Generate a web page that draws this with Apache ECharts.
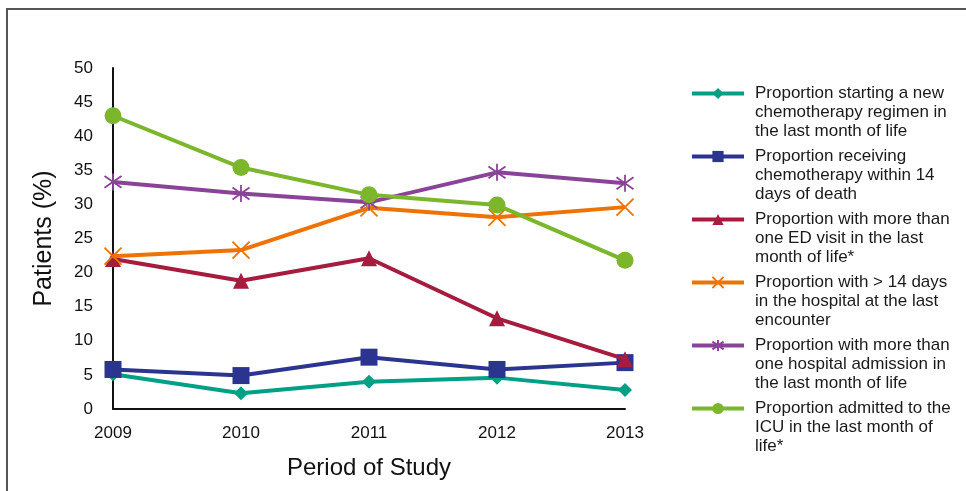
<!DOCTYPE html>
<html>
<head>
<meta charset="utf-8">
<script src="https://cdn.jsdelivr.net/npm/echarts@6/dist/echarts.min.js"></script>
<style>
  html, body { margin: 0; padding: 0; background: #fff; }
  #chart { width: 966px; height: 491px; }
</style>
</head>
<body>
<div id="chart"></div>
<script>
// Study years
const years = ['2009', '2010', '2011', '2012', '2013'];
const yTicks = [0, 5, 10, 15, 20, 25, 30, 35, 40, 45, 50];

// Percent of patients per year for each end-of-life indicator
const newRegimen = [5.1, 2.3, 4.0, 4.6, 2.8];
const chemo14Days = [5.8, 4.9, 7.6, 5.8, 6.8];
const multiEdVisit = [22.0, 18.8, 22.1, 13.3, 7.3];
const longStay = [22.4, 23.3, 29.5, 28.1, 29.6];
const multiAdmission = [33.3, 31.6, 30.3, 34.7, 33.1];
const icuAdmission = [43.0, 35.4, 31.4, 29.9, 21.8];

const seriesNames = [
  'Proportion starting a new\nchemotherapy regimen in\nthe last month of life',
  'Proportion receiving\nchemotherapy within 14\ndays of death',
  'Proportion with more than\none ED visit in the last\nmonth of life*',
  'Proportion with > 14 days\nin the hospital at the last\nencounter',
  'Proportion with more than\none hospital admission in\nthe last month of life',
  'Proportion admitted to the\nICU in the last month of\nlife*'
];

const colors = ['#00a086', '#2b3590', '#a51c3f', '#ef7204', '#8a4497', '#7bb62c'];

const crossPath = 'path://M0,0L10,10M10,0L0,10';
const starPath = 'path://M5,0L5,10M0,1.5L10,8.5M10,1.5L0,8.5';

const seriesData = [newRegimen, chemo14Days, multiEdVisit, longStay, multiAdmission, icuAdmission];
const symbols = ['diamond', 'rect', 'triangle', crossPath, starPath, 'circle'];
const symbolSizes = [14, 17, 16, 17, 17, 17];

const chart = echarts.init(document.getElementById('chart'), null, { renderer: 'canvas' });

const series = seriesData.map((vals, i) => {
  const stroked = i === 3 || i === 4;
  return {
    name: seriesNames[i],
    type: 'line',
    data: vals,
    symbol: symbols[i],
    symbolSize: symbolSizes[i],
    showAllSymbol: true,
    z: 2 + i,
    lineStyle: { color: colors[i], width: 4 },
    itemStyle: stroked
      ? { color: colors[i], borderColor: colors[i], borderWidth: 1.8 }
      : { color: colors[i], borderWidth: 0 },
    emphasis: { disabled: true }
  };
});

chart.setOption({
  animation: false,
  backgroundColor: '#fff',
  color: colors,
  graphic: [{
    type: 'rect',
    shape: { x: 7, y: 9, width: 1000, height: 520 },
    style: { fill: 'none', stroke: '#555', lineWidth: 2 },
    silent: true,
    z: -1
  }],
  grid: { left: 113, right: 341, top: 68, bottom: 82, outerBoundsMode: 'none', containLabel: false },
  legend: {
    orient: 'vertical',
    left: 690,
    top: 46,
    padding: 0,
    itemWidth: 52,
    itemHeight: 14,
    itemGap: -32,
    selectedMode: false,
    lineStyle: { width: 4 },
    textStyle: {
      color: '#1a1a1a',
      fontFamily: 'Liberation Sans, Arial, sans-serif',
      fontSize: 17,
      lineHeight: 19,
      padding: [0, 0, 0, 6]
    },
    formatter: name => '\n\n' + name
  },
  xAxis: {
    type: 'category',
    data: years,
    boundaryGap: false,
    name: 'Period of Study',
    nameLocation: 'middle',
    nameGap: 47,
    nameTextStyle: {
      color: '#111',
      fontFamily: 'Liberation Sans, Arial, sans-serif',
      fontSize: 24
    },
    axisLine: { lineStyle: { color: '#111', width: 2 } },
    axisTick: { show: false },
    axisLabel: {
      color: '#111',
      fontFamily: 'Liberation Sans, Arial, sans-serif',
      fontSize: 17,
      margin: 16
    },
    splitLine: { show: false }
  },
  yAxis: {
    type: 'value',
    min: yTicks[0],
    max: yTicks[yTicks.length - 1],
    interval: yTicks[1] - yTicks[0],
    name: 'Patients (%)',
    nameLocation: 'middle',
    nameGap: 56,
    nameTextStyle: {
      color: '#111',
      fontFamily: 'Liberation Sans, Arial, sans-serif',
      fontSize: 25
    },
    axisLine: { show: true, lineStyle: { color: '#111', width: 2 } },
    axisTick: { show: false },
    axisLabel: {
      color: '#111',
      fontFamily: 'Liberation Sans, Arial, sans-serif',
      fontSize: 17,
      margin: 20
    },
    splitLine: { show: false }
  },
  series: series
});
</script>
</body>
</html>
